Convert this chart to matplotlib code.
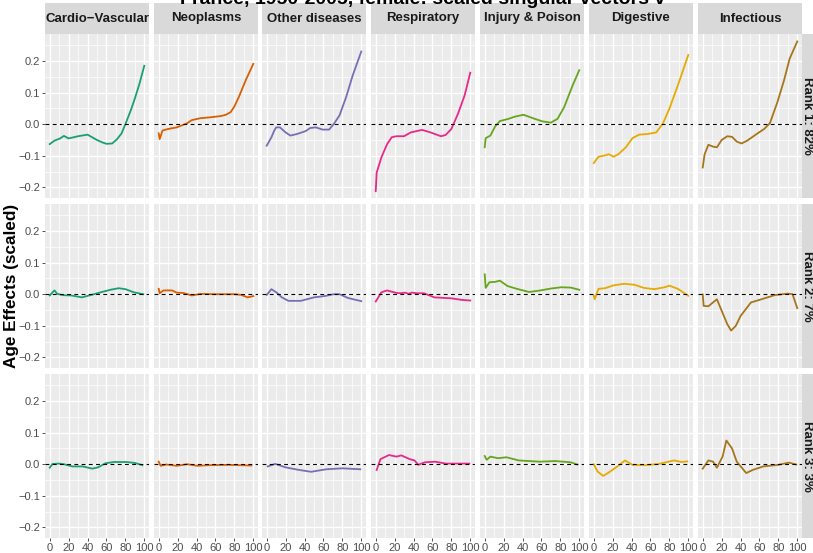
import matplotlib
matplotlib.use('Agg')
import matplotlib.pyplot as plt
from matplotlib.ticker import MultipleLocator

plt.rcParams['font.family'] = ['Liberation Sans', 'DejaVu Sans']

causes = ['Cardio\u2212Vascular', 'Neoplasms', 'Other diseases', 'Respiratory',
          'Injury & Poison', 'Digestive', 'Infectious']
ranks = ['Rank 1: 82%', 'Rank 2: 7%', 'Rank 3: 3%']
colors = ['#1B9E77', '#D95F02', '#7570B3', '#E7298A', '#66A61E', '#E6AB02', '#A6761D']
title = 'France, 1950-2005, female: scaled singular vectors v'

# (age, scaled age effect) for each cause and rank
cv1 = [(0, -0.063), (5, -0.052), (11, -0.045), (15, -0.037), (20, -0.045), (30, -0.038),
       (40, -0.033), (50, -0.050), (56, -0.058), (60, -0.062), (66, -0.061), (71, -0.048),
       (76, -0.029), (80, 0.000), (86, 0.046), (90, 0.081), (95, 0.129), (100, 0.185)]
neo1 = [(0, -0.029), (1, -0.047), (4, -0.020), (10, -0.015), (19, -0.010), (25, -0.003),
        (30, 0.003), (35, 0.013), (44, 0.019), (55, 0.022), (66, 0.026), (71, 0.030),
        (76, 0.038), (80, 0.056), (85, 0.088), (92, 0.139), (100, 0.191)]
oth1 = [(0, -0.068), (5, -0.041), (8, -0.020), (10, -0.010), (14, -0.010), (17, -0.018),
        (20, -0.026), (25, -0.036), (32, -0.031), (41, -0.022), (46, -0.012), (52, -0.010),
        (59, -0.017), (66, -0.017), (71, 0.001), (77, 0.028), (84, 0.086), (91, 0.155),
        (100, 0.230)]
resp1 = [(0, -0.212), (1, -0.153), (6, -0.105), (12, -0.063), (17, -0.041), (22, -0.038),
         (30, -0.038), (37, -0.026), (49, -0.018), (58, -0.026), (69, -0.038), (74, -0.034),
         (80, -0.015), (87, 0.033), (94, 0.091), (100, 0.163)]
inj1 = [(0, -0.073), (1, -0.044), (6, -0.036), (11, -0.007), (16, 0.010), (24, 0.016),
        (32, 0.024), (41, 0.030), (52, 0.018), (61, 0.009), (70, 0.005), (77, 0.017),
        (84, 0.054), (93, 0.123), (100, 0.171)]
dig1 = [(0, -0.123), (5, -0.103), (10, -0.100), (16, -0.095), (21, -0.103), (26, -0.095),
        (34, -0.073), (41, -0.044), (48, -0.033), (57, -0.031), (66, -0.026), (73, 0.001),
        (80, 0.049), (89, 0.123), (100, 0.219)]
inf1 = [(0, -0.137), (2, -0.095), (6, -0.065), (11, -0.071), (15, -0.073), (20, -0.050),
        (26, -0.038), (31, -0.040), (36, -0.055), (41, -0.061), (47, -0.052), (58, -0.029),
        (65, -0.015), (71, 0.003), (79, 0.070), (86, 0.139), (92, 0.208), (100, 0.262)]

cv2 = [(0, -0.004), (3, 0.006), (5, 0.012), (8, 0.001), (14, -0.003), (23, -0.004),
       (34, -0.010), (43, -0.003), (54, 0.006), (64, 0.014), (73, 0.019), (80, 0.016),
       (89, 0.006), (99, 0.000)]
neo2 = [(0, 0.017), (1, 0.003), (5, 0.012), (14, 0.012), (19, 0.005), (26, 0.004),
        (35, -0.004), (44, 0.001), (59, 0.000), (80, 0.000), (87, -0.002), (94, -0.010),
        (100, -0.006)]
oth2 = [(0, -0.002), (5, 0.016), (11, 0.004), (16, -0.010), (23, -0.021), (36, -0.021),
        (50, -0.010), (61, -0.006), (71, 0.000), (77, 0.000), (86, -0.012), (100, -0.022)]
resp2 = [(0, -0.023), (6, 0.006), (12, 0.012), (17, 0.008), (22, 0.004), (26, 0.003),
         (31, 0.005), (35, 0.001), (38, 0.005), (44, 0.003), (51, 0.003), (62, -0.010),
         (80, -0.013), (91, -0.018), (100, -0.020)]
inj2 = [(0, 0.063), (1, 0.020), (5, 0.038), (11, 0.039), (16, 0.043), (24, 0.026),
        (34, 0.017), (47, 0.007), (59, 0.012), (70, 0.018), (81, 0.022), (91, 0.021),
        (100, 0.014)]
dig2 = [(0, -0.004), (1, -0.016), (5, 0.017), (12, 0.019), (21, 0.028), (32, 0.033),
        (43, 0.030), (53, 0.020), (64, 0.016), (75, 0.022), (80, 0.027), (89, 0.017),
        (100, -0.005)]
inf2 = [(0, -0.001), (1, -0.037), (6, -0.038), (15, -0.016), (20, -0.052), (26, -0.095),
        (30, -0.115), (35, -0.100), (40, -0.069), (51, -0.026), (61, -0.017), (76, -0.003),
        (90, 0.002), (95, 0.000), (100, -0.044)]

cv3 = [(0, -0.011), (3, 0.001), (10, 0.002), (15, 0.000), (24, -0.007), (35, -0.007),
       (45, -0.014), (51, -0.010), (59, 0.003), (68, 0.007), (81, 0.007), (90, 0.004),
       (98, -0.003)]
neo3 = [(0, 0.008), (2, -0.005), (8, -0.001), (19, -0.005), (30, 0.000), (41, -0.005),
        (52, -0.003), (74, -0.002), (98, -0.004)]
oth3 = [(1, -0.007), (9, 0.001), (20, -0.010), (34, -0.018), (47, -0.024), (63, -0.016),
        (80, -0.013), (99, -0.016)]
resp3 = [(1, -0.018), (5, 0.016), (14, 0.029), (22, 0.024), (27, 0.028), (36, 0.016),
         (41, 0.012), (45, -0.002), (52, 0.006), (63, 0.008), (74, 0.002), (99, 0.002)]
inj3 = [(0, 0.026), (2, 0.014), (6, 0.024), (14, 0.019), (23, 0.022), (36, 0.012),
        (58, 0.008), (75, 0.010), (91, 0.006), (98, -0.001)]
dig3 = [(0, 0.000), (4, -0.023), (10, -0.037), (16, -0.026), (25, -0.007), (33, 0.012),
        (41, -0.002), (55, -0.003), (69, 0.001), (85, 0.012), (93, 0.007), (99, 0.009)]
inf3 = [(0, -0.014), (6, 0.012), (11, 0.008), (15, -0.011), (21, 0.024), (25, 0.075),
        (31, 0.050), (36, 0.008), (46, -0.028), (53, -0.018), (64, -0.007), (80, -0.002),
        (91, 0.005), (99, -0.001)]

grid_rows = [
    [cv1, neo1, oth1, resp1, inj1, dig1, inf1],
    [cv2, neo2, oth2, resp2, inj2, dig2, inf2],
    [cv3, neo3, oth3, resp3, inj3, dig3, inf3],
]

W, H = 813, 553
fig = plt.figure(figsize=(W / 100, H / 100), dpi=100)

col_left = [45, 154, 262, 371, 480, 589, 698]
row_top = [34, 204, 374]
pw, ph = 104, 164
ylim = (-0.2335, 0.2855)


def px(x, y, w, h):
    return [x / W, 1 - (y + h) / H, w / W, h / H]


def blank(ax):
    ax.set_facecolor('#D9D9D9')
    ax.set_xticks([])
    ax.set_yticks([])
    for s in ax.spines.values():
        s.set_visible(False)


for r in range(3):
    for c in range(7):
        ax = fig.add_axes(px(col_left[c], row_top[r], pw, ph))
        ax.set_facecolor('#EBEBEB')
        pts = grid_rows[r][c]
        ax.plot([p[0] for p in pts], [p[1] for p in pts], color=colors[c], lw=1.3,
                solid_joinstyle='round', zorder=3)
        ax.axhline(0, color='black', lw=0.8, ls=(0, (3.5, 3)), zorder=4)
        ax.set_xlim(-5, 105)
        ax.set_ylim(*ylim)
        ax.xaxis.set_major_locator(MultipleLocator(20))
        ax.xaxis.set_minor_locator(MultipleLocator(10))
        ax.yaxis.set_major_locator(MultipleLocator(0.1))
        ax.yaxis.set_minor_locator(MultipleLocator(0.05))
        ax.grid(which='major', color='white', lw=1.0)
        ax.grid(which='minor', color='white', lw=0.5)
        ax.set_axisbelow(True)
        for s in ax.spines.values():
            s.set_visible(False)
        ax.tick_params(which='minor', length=0)
        ax.tick_params(which='major', length=2.2, width=0.6, color='#333333',
                       labelsize=8, labelcolor='#4D4D4D', pad=1.5)
        if c == 0:
            ax.set_yticklabels([f'{v:.1f}'.replace('-', '\u2212')
                                for v in ax.get_yticks()])
        else:
            ax.tick_params(axis='y', left=False, labelleft=False)
        if r == 2:
            ax.set_xticklabels([f'{int(v)}' for v in ax.get_xticks()])
        else:
            ax.tick_params(axis='x', bottom=False, labelbottom=False)

        if r == 0:
            sax = fig.add_axes(px(col_left[c], 3, pw, 31))
            blank(sax)
            sax.text(0.5, 0.5, causes[c], ha='center', va='center', fontsize=9.5,
                     fontweight='bold', color='#1A1A1A', transform=sax.transAxes)
        if c == 6:
            rax = fig.add_axes(px(802, row_top[r], 20, ph))
            blank(rax)
            fig.text(807 / W, 1 - (row_top[r] + ph / 2) / H, ranks[r], rotation=-90,
                     ha='center', va='center', fontsize=9.5, fontweight='bold',
                     color='#1A1A1A')

fig.text(11.5 / W, 1 - 286 / H, 'Age Effects (scaled)', rotation=90, ha='center',
         va='center', fontsize=12.3, fontweight='bold', color='black')
fig.text(423 / W, 1 - 4.5 / H, title, ha='center', va='baseline', fontsize=14,
         fontweight='bold', color='black')

fig.savefig('out.png', dpi=100)
